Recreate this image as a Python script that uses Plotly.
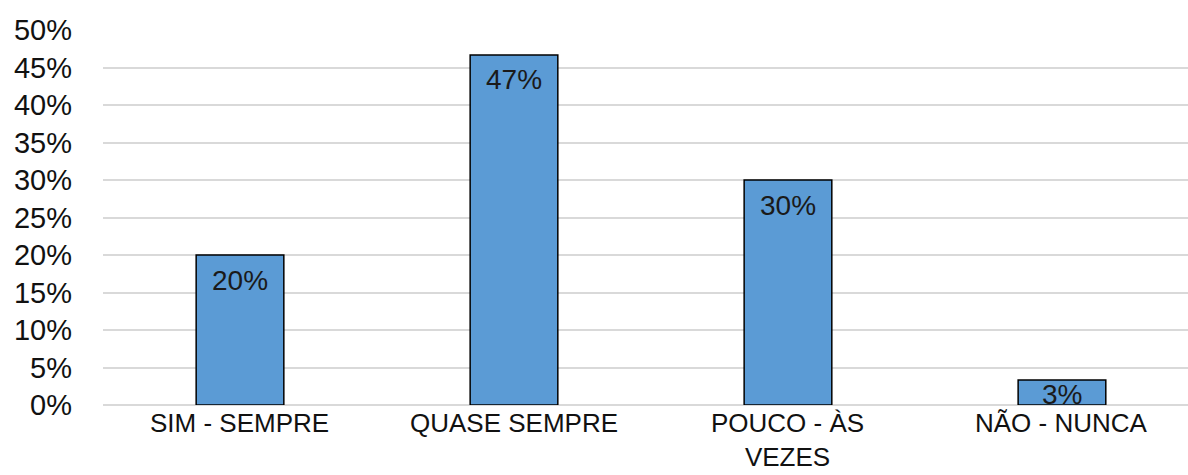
import plotly.graph_objects as go

categories = ["SIM - SEMPRE", "QUASE SEMPRE", "POUCO - ÀS VEZES", "NÃO - NUNCA"]
category_lines = [["SIM - SEMPRE"], ["QUASE SEMPRE"], ["POUCO - ÀS", "VEZES"], ["NÃO - NUNCA"]]
shares = [20.0, 46.67, 30.0, 3.33]  # percent of respondents
y_ticks = [0, 5, 10, 15, 20, 25, 30, 35, 40, 45, 50]
y_tick_labels = [f"{t}%" for t in y_ticks]

BAR_COLOR = "#5B9BD5"
FONT = "Liberation Sans, Arial, sans-serif"
TEXT_COLOR = "#111111"

fig = go.Figure(
    go.Bar(
        x=categories,
        y=shares,
        marker=dict(color=BAR_COLOR, line=dict(color="#000000", width=1.5)),
        hoverinfo="skip",
    )
)

# value labels just inside the top of each bar
px_per_unit = 375 / 50
for cat, v in zip(categories, shares):
    shift = min(25, 0.5 * v * px_per_unit + 2)
    fig.add_annotation(
        x=cat, y=v, yref="y", xref="x",
        text=f"{v:.0f}%", showarrow=False,
        yshift=-shift, yanchor="middle",
        font=dict(family=FONT, size=28, color="#1a1a1a"),
    )

# category labels under the axis (wrapped where needed)
for cat, lines in zip(categories, category_lines):
    fig.add_annotation(
        x=cat, xref="x", y=0, yref="paper",
        text="<br>".join(lines), showarrow=False,
        yanchor="top", yshift=-2, borderpad=0,
        font=dict(family=FONT, size=26, color=TEXT_COLOR),
    )

fig.update_layout(
    width=1188, height=475,
    margin=dict(l=103, r=0, t=30, b=70),
    paper_bgcolor="white", plot_bgcolor="white",
    showlegend=False,
    bargap=0.68,
    font=dict(family=FONT, color=TEXT_COLOR),
)
fig.update_xaxes(
    range=[-0.5, 3.46],
    automargin=False,
    showticklabels=False,
    showgrid=False, showline=False, zeroline=False, ticks="",
)
fig.update_yaxes(
    range=[0, 50],
    automargin=False,
    tickvals=y_ticks, ticktext=y_tick_labels,
    showgrid=True, gridcolor="#d9d9d9", gridwidth=1.5,
    zeroline=True, zerolinecolor="#d9d9d9", zerolinewidth=1.5,
    showline=False, ticks="",
    tickfont=dict(family=FONT, size=29, color=TEXT_COLOR),
    ticklabelstandoff=30,
)

fig.write_html("out.html")
